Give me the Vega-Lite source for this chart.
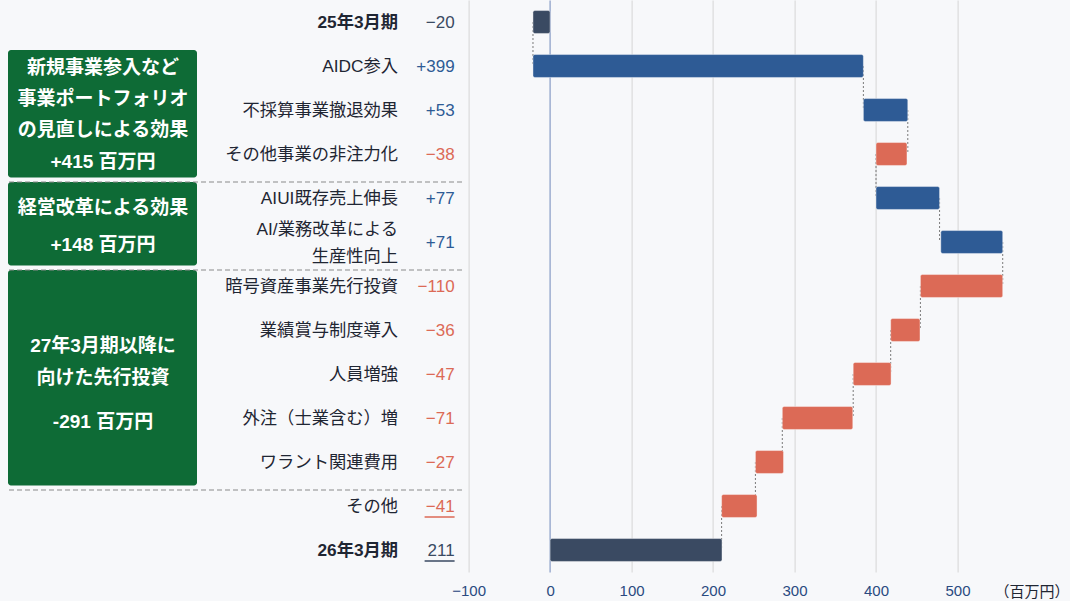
{
  "$schema": "https://vega.github.io/schema/vega-lite/v6.json",
  "width": 550,
  "height": 572,
  "autosize": {"type": "none"},
  "padding": {"left": 468.6, "top": 0, "right": 51.4, "bottom": 29},
  "background": "#f7f8fa",
  "config": {"font": "Liberation Sans, Noto Sans CJK JP", "view": {"stroke": null}},
  "datasets": {
    "items": [
      {"order": 0, "name": "25年3月期", "label": "−20", "from": 0, "to": -21, "kind": "total", "section": null, "title": null, "amount": null},
      {"order": 1, "name": "AIDC参入", "label": "+399", "from": -21, "to": 384.5, "kind": "up", "section": 1, "title": "新規事業参入など\n事業ポートフォリオ\nの見直しによる効果", "amount": "+415 百万円"},
      {"order": 2, "name": "不採算事業撤退効果", "label": "+53", "from": 384.5, "to": 439, "kind": "up", "section": 1, "title": "新規事業参入など\n事業ポートフォリオ\nの見直しによる効果", "amount": "+415 百万円"},
      {"order": 3, "name": "その他事業の非注力化", "label": "−38", "from": 438, "to": 400, "kind": "down", "section": 1, "title": "新規事業参入など\n事業ポートフォリオ\nの見直しによる効果", "amount": "+415 百万円"},
      {"order": 4, "name": "AIUI既存売上伸長", "label": "+77", "from": 400, "to": 478, "kind": "up", "section": 2, "title": "経営改革による効果", "amount": "+148 百万円"},
      {"order": 5, "name": "AI/業務改革による\n生産性向上", "label": "+71", "from": 479.5, "to": 555.5, "kind": "up", "section": 2, "title": "経営改革による効果", "amount": "+148 百万円"},
      {"order": 6, "name": "暗号資産事業先行投資", "label": "−110", "from": 555.5, "to": 454.5, "kind": "down", "section": 3, "title": "27年3月期以降に\n向けた先行投資", "amount": "-291 百万円"},
      {"order": 7, "name": "業績賞与制度導入", "label": "−36", "from": 454, "to": 418, "kind": "down", "section": 3, "title": "27年3月期以降に\n向けた先行投資", "amount": "-291 百万円"},
      {"order": 8, "name": "人員増強", "label": "−47", "from": 418.5, "to": 372, "kind": "down", "section": 3, "title": "27年3月期以降に\n向けた先行投資", "amount": "-291 百万円"},
      {"order": 9, "name": "外注（士業含む）増", "label": "−71", "from": 371.5, "to": 285, "kind": "down", "section": 3, "title": "27年3月期以降に\n向けた先行投資", "amount": "-291 百万円"},
      {"order": 10, "name": "ワラント関連費用", "label": "−27", "from": 286.5, "to": 252, "kind": "down", "section": 3, "title": "27年3月期以降に\n向けた先行投資", "amount": "-291 百万円"},
      {"order": 11, "name": "その他", "label": "−41", "from": 254, "to": 210.5, "kind": "down", "section": null, "title": null, "amount": null},
      {"order": 12, "name": "26年3月期", "label": "211", "from": 0, "to": 211, "kind": "total", "section": null, "title": null, "amount": null}
    ]
  },
  "data": {"name": "items"},
  "layer": [
    {
      "encoding": {
        "y": {
          "field": "name",
          "type": "nominal",
          "scale": {
            "domain": ["25年3月期", "AIDC参入", "不採算事業撤退効果", "その他事業の非注力化", "AIUI既存売上伸長", "AI/業務改革による\n生産性向上", "暗号資産事業先行投資", "業績賞与制度導入", "人員増強", "外注（士業含む）増", "ワラント関連費用", "その他", "26年3月期"],
            "paddingInner": 0.48,
            "paddingOuter": 0.24
          },
          "axis": {
            "title": null,
            "domain": false,
            "ticks": false,
            "grid": false,
            "labelPadding": 71,
            "labelFontSize": 17.3,
            "labelColor": "#1f2633",
            "labelLimit": 300,
            "labelLineHeight": 27,
            "labelExpr": "split(datum.value, '\\n')",
            "labelOffset": {"condition": {"test": "indexof(datum.value, '\\n') >= 0", "value": -12}, "value": 1},
            "labelFontWeight": {"condition": {"test": "datum.value == '25年3月期' || datum.value == '26年3月期'", "value": "bold"}, "value": "normal"}
          }
        },
        "color": {
          "field": "kind",
          "type": "nominal",
          "scale": {"domain": ["total", "up", "down"], "range": ["#3a4a62", "#2e5b95", "#dc6a56"]},
          "legend": null
        }
      },
      "layer": [
        {
          "transform": [
            {"window": [{"op": "lead", "field": "name", "as": "next"}], "sort": [{"field": "order", "order": "ascending"}]},
            {"filter": "datum.next != null"}
          ],
          "mark": {"type": "rule", "color": "#7a7a7a", "strokeDash": [2, 2], "strokeWidth": 1},
          "encoding": {
            "x": {"field": "to", "type": "quantitative", "title": "（百万円）"},
            "y2": {"field": "next"},
            "color": {"value": "#7a7a7a"}
          }
        },
        {
          "mark": {"type": "bar", "cornerRadius": 2, "stroke": "#ffffff", "strokeWidth": 0.8, "strokeOpacity": 0.5},
          "encoding": {
            "x": {
              "field": "from",
              "type": "quantitative",
              "title": "（百万円）",
              "scale": {"domain": [-100, 575], "nice": false, "zero": false},
              "axis": {
                "values": [-100, 0, 100, 200, 300, 400, 500],
                "grid": true,
                "gridColor": {"condition": {"test": "datum.value === 0", "value": "#8fa2c8"}, "value": "#d6d6d6"},
                "gridWidth": {"condition": {"test": "datum.value === 0", "value": 1.3}, "value": 1},
                "domain": false,
                "ticks": false,
                "labelFlush": false,
                "labelPadding": 11,
                "labelFontSize": 15,
                "labelColor": "#2a4a80",
                "title": "（百万円）",
                "titleX": 563,
                "titleY": 19,
                "titleAlign": "center",
                "titleBaseline": "middle",
                "titleAngle": 0,
                "titleFontSize": 15,
                "titleFontWeight": "normal",
                "titleColor": "#1f2633"
              }
            },
            "x2": {"field": "to"}
          }
        },
        {
          "mark": {"type": "text", "align": "right", "baseline": "middle", "dx": -14, "dy": 1, "fontSize": 17},
          "encoding": {
            "x": {"datum": -100},
            "text": {"field": "label"}
          }
        },
        {
          "transform": [{"filter": {"field": "name", "oneOf": ["その他", "26年3月期"]}}],
          "mark": {"type": "rule", "strokeWidth": 1.5, "xOffset": -44, "x2Offset": -14, "yOffset": 11},
          "encoding": {
            "x": {"datum": -100},
            "x2": {"datum": -100}
          }
        }
      ]
    },
    {
      "transform": [
        {"filter": "datum.section != null"},
        {"aggregate": [
          {"op": "min", "field": "order", "as": "o1"},
          {"op": "max", "field": "order", "as": "o2"},
          {"op": "mean", "field": "order", "as": "om"}
        ], "groupby": ["section", "title", "amount"]}
      ],
      "encoding": {
        "x": {"datum": -100}
      },
      "layer": [
        {
          "mark": {"type": "rect", "color": "#0e6b36", "cornerRadius": 3, "yOffset": -16, "y2Offset": 23.5, "xOffset": -460.6, "x2Offset": -271.6},
          "encoding": {
            "x2": {"datum": -100},
            "y": {"field": "o1", "type": "quantitative", "scale": {"domain": [-0.5, 12.5], "reverse": true, "nice": false, "zero": false}, "axis": null},
            "y2": {"field": "o2"}
          }
        },
        {
          "mark": {"type": "rule", "color": "#8a8a8a", "strokeDash": [5, 3], "strokeWidth": 1.2, "yOffset": 28, "xOffset": -459.6, "x2Offset": -5.6},
          "encoding": {
            "x2": {"datum": -100},
            "y": {"field": "o2", "type": "quantitative", "scale": {"domain": [-0.5, 12.5], "reverse": true, "nice": false, "zero": false}, "axis": null}
          }
        },
        {
          "transform": [{"filter": "datum.section == 1"}],
          "mark": {"type": "text", "color": "#ffffff", "fontSize": 19, "fontWeight": "bold", "lineBreak": "\n", "lineHeight": 31, "dx": -365.6, "dy": -42, "align": "center", "baseline": "middle"},
          "encoding": {
            "y": {"field": "om", "type": "quantitative", "scale": {"domain": [-0.5, 12.5], "reverse": true, "nice": false, "zero": false}, "axis": null},
            "text": {"field": "title"}
          }
        },
        {
          "transform": [{"filter": "datum.section == 2"}],
          "mark": {"type": "text", "color": "#ffffff", "fontSize": 19, "fontWeight": "bold", "lineBreak": "\n", "lineHeight": 31, "dx": -365.6, "dy": -12, "align": "center", "baseline": "middle"},
          "encoding": {
            "y": {"field": "om", "type": "quantitative", "scale": {"domain": [-0.5, 12.5], "reverse": true, "nice": false, "zero": false}, "axis": null},
            "text": {"field": "title"}
          }
        },
        {
          "transform": [{"filter": "datum.section == 3"}],
          "mark": {"type": "text", "color": "#ffffff", "fontSize": 19, "fontWeight": "bold", "lineBreak": "\n", "lineHeight": 32, "dx": -365.6, "dy": -28, "align": "center", "baseline": "middle"},
          "encoding": {
            "y": {"field": "om", "type": "quantitative", "scale": {"domain": [-0.5, 12.5], "reverse": true, "nice": false, "zero": false}, "axis": null},
            "text": {"field": "title"}
          }
        },
        {
          "transform": [{"filter": "datum.section == 1"}],
          "mark": {"type": "text", "color": "#ffffff", "fontSize": 19, "fontWeight": "bold", "dx": -365.6, "dy": 52, "align": "center", "baseline": "middle"},
          "encoding": {
            "y": {"field": "om", "type": "quantitative", "scale": {"domain": [-0.5, 12.5], "reverse": true, "nice": false, "zero": false}, "axis": null},
            "text": {"field": "amount"}
          }
        },
        {
          "transform": [{"filter": "datum.section == 2"}],
          "mark": {"type": "text", "color": "#ffffff", "fontSize": 19, "fontWeight": "bold", "dx": -365.6, "dy": 25, "align": "center", "baseline": "middle"},
          "encoding": {
            "y": {"field": "om", "type": "quantitative", "scale": {"domain": [-0.5, 12.5], "reverse": true, "nice": false, "zero": false}, "axis": null},
            "text": {"field": "amount"}
          }
        },
        {
          "transform": [{"filter": "datum.section == 3"}],
          "mark": {"type": "text", "color": "#ffffff", "fontSize": 19, "fontWeight": "bold", "dx": -365.6, "dy": 47.7, "align": "center", "baseline": "middle"},
          "encoding": {
            "y": {"field": "om", "type": "quantitative", "scale": {"domain": [-0.5, 12.5], "reverse": true, "nice": false, "zero": false}, "axis": null},
            "text": {"field": "amount"}
          }
        }
      ]
    }
  ],
  "resolve": {"scale": {"y": "independent"}, "axis": {"y": "independent"}}
}
